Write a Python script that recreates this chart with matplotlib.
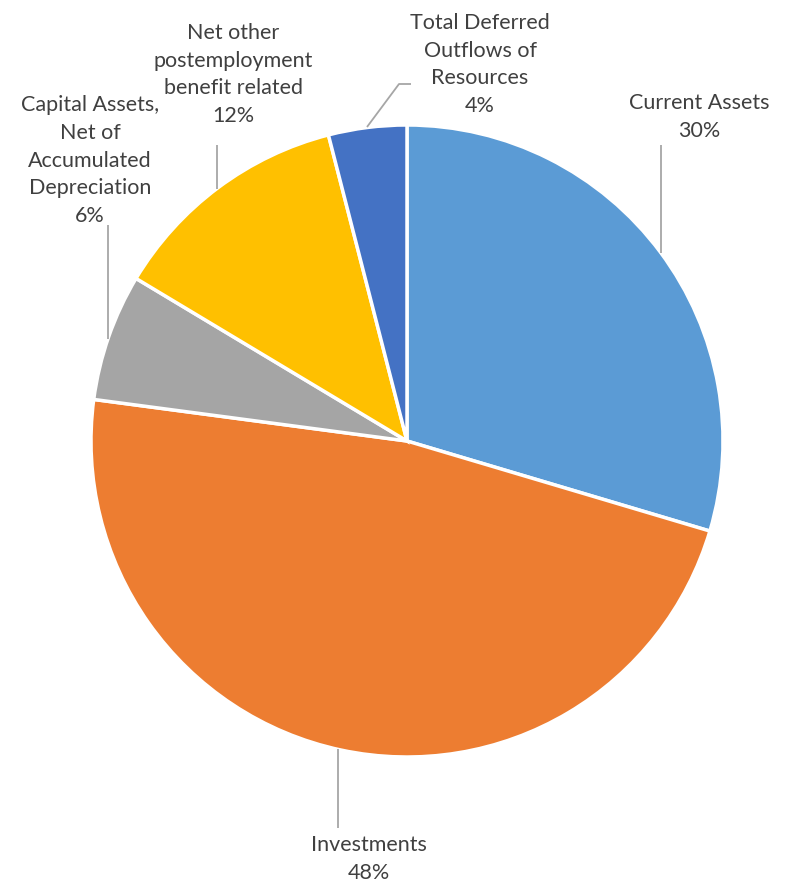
import numpy as np
import matplotlib
matplotlib.use("Agg")
import matplotlib.pyplot as plt

# values (percent of total assets)
categories = [
    "Current Assets",
    "Investments",
    "Capital Assets,\nNet of\nAccumulated\nDepreciation",
    "Net other\npostemployment\nbenefit related",
    "Total Deferred\nOutflows of\nResources",
]
shares = [29.6, 47.5, 6.5, 12.4, 4.0]
colors = ["#5B9BD5", "#ED7D31", "#A5A5A5", "#FFC000", "#4472C4"]

W, H = 790, 884
CX, CY, R = 407, H - 441, 316

# label centres (pixel x, pixel y of the last text line) and leader lines
label_pos = [(699, 131), (369, 873), (90, 216), (233, 116), (480, 106)]
leaders = [
    [(661, 145), (661, None)],
    [(338, 828), (338, None)],
    [(108, 225), (108, None)],
    [(217, 145), (217, None)],
    [(411, 84), (399, 84), (367, 127)],
]


def main():
    plt.rcParams["font.family"] = ["Lato", "DejaVu Sans"]
    fig = plt.figure(figsize=(W / 100, H / 100), dpi=100)
    ax = fig.add_axes([0, 0, 1, 1])

    ax.pie(shares, colors=colors, startangle=90, counterclock=False,
           center=(CX, CY), radius=R,
           wedgeprops=dict(edgecolor="white", linewidth=2.5))
    ax.set_xlim(0, W)
    ax.set_ylim(0, H)
    ax.set_aspect("equal")
    ax.axis("off")

    total = sum(shares)
    for name, val, (lx, ly), pts in zip(categories, shares, label_pos, leaders):
        txt = f"{name}\n{round(val / total * 100):.0f}%"
        ax.text(lx, H - ly - 10, txt, ha="center", va="bottom", fontsize=15.5,
                color="#404040", linespacing=1.48)
        xs, ys = [], []
        for px, py in pts:
            if py is None:
                # end the leader on the pie edge
                dy = np.sqrt(R ** 2 - (px - CX) ** 2)
                prev = ys[-1]
                py_data = CY + dy if prev > CY else CY - dy
            else:
                py_data = H - py
            xs.append(px)
            ys.append(py_data)
        ax.plot(xs, ys, color="#A6A6A6", linewidth=1.3, solid_capstyle="butt")

    fig.savefig("out.png", dpi=100)


main()
